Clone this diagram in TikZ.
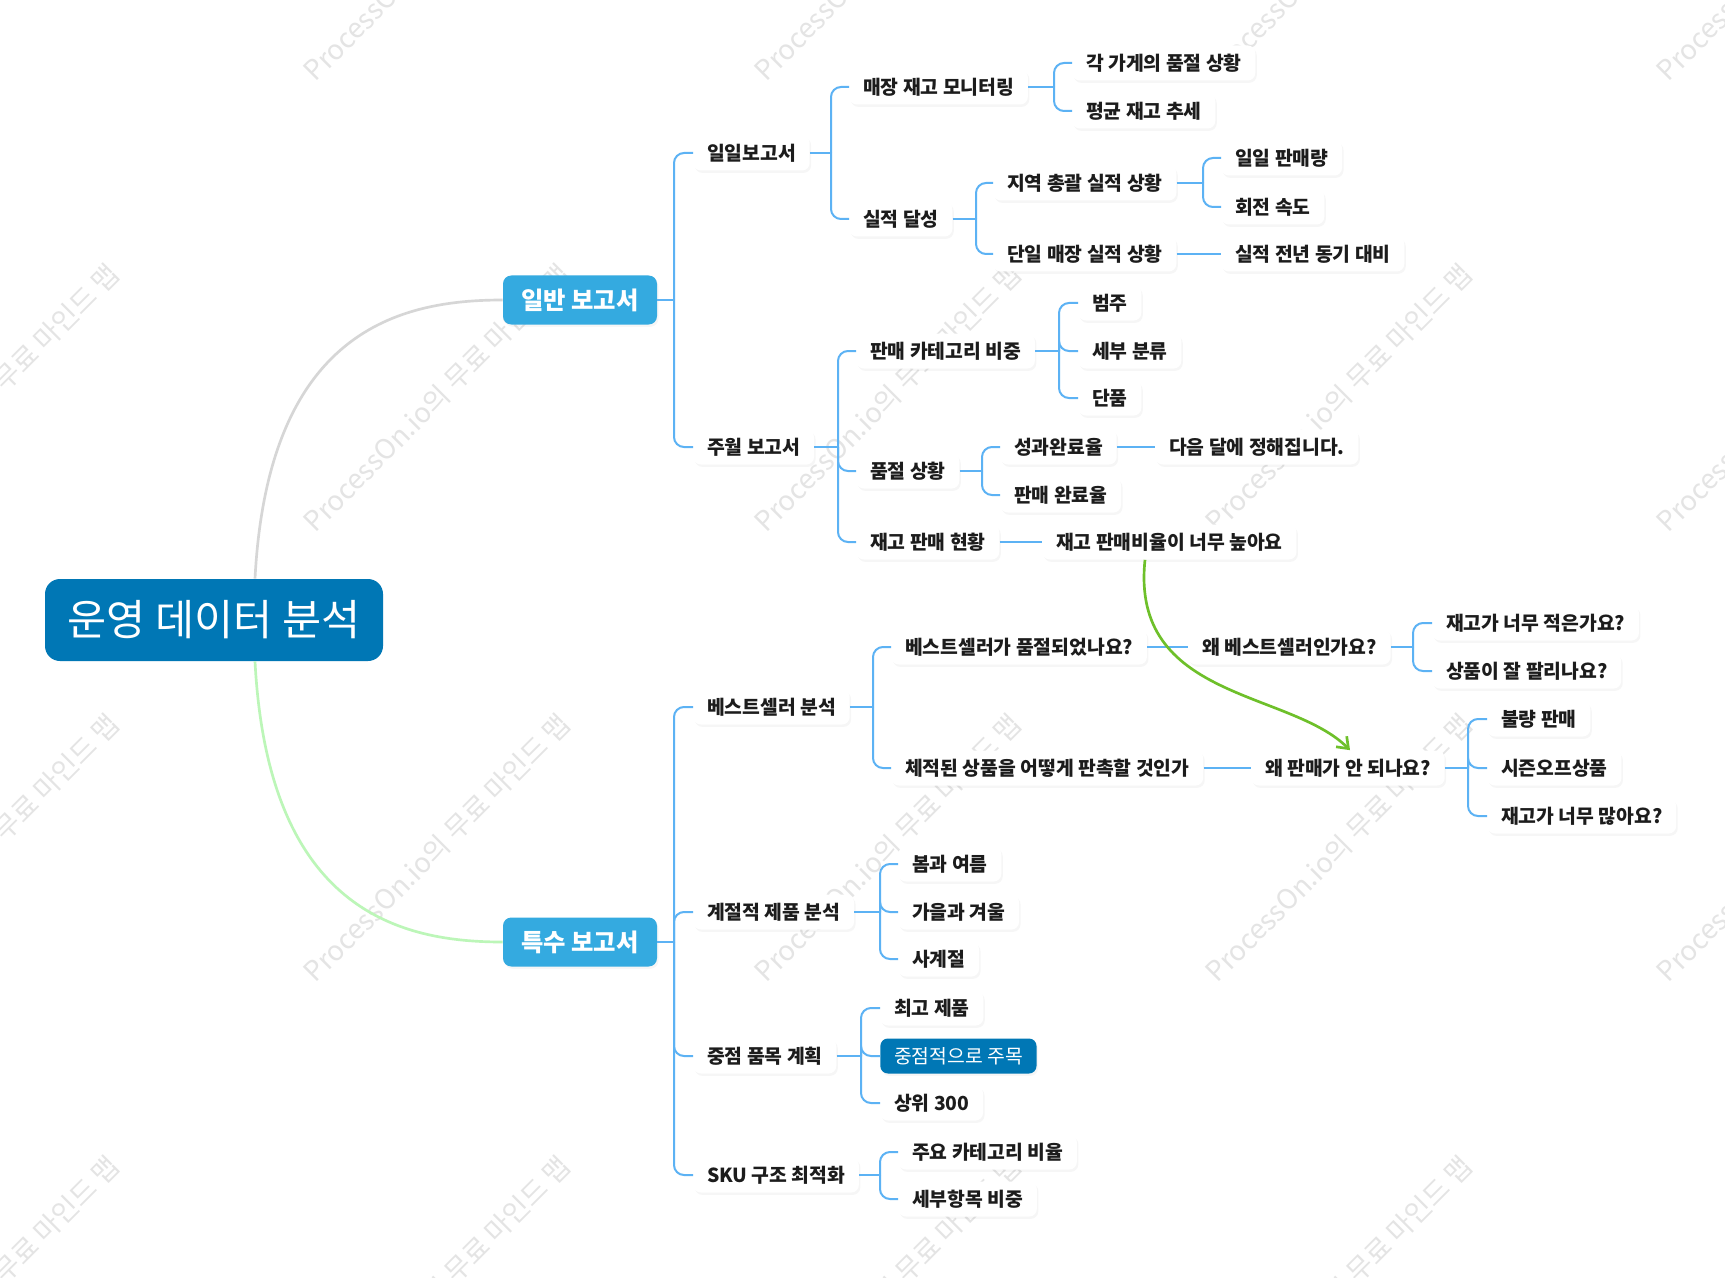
\documentclass[tikz,border=0pt]{standalone}
\usepackage{fontspec}
\setmainfont{Noto Sans CJK KR}
\usetikzlibrary{arrows.meta,shadows}
\definecolor{rootblue}{RGB}{0,119,181}
\definecolor{mainblue}{RGB}{52,170,224}
\definecolor{linkblue}{RGB}{92,178,244}
\definecolor{txt}{RGB}{28,28,28}
\definecolor{arrowgreen}{RGB}{110,192,42}
\definecolor{graycurve}{RGB}{214,214,214}
\definecolor{greencurve}{RGB}{188,246,184}
\definecolor{wmark}{RGB}{228,228,228}
\newcommand\mmbranch[3]{%
  \draw[conn] (#1.east) -- (#1.east -| #2,0);
  \foreach \c in {#3} \draw[conn] (#1.east -| #2,0) |- (\c.west);
}
\begin{document}
\begin{tikzpicture}[x=0.6pt,y=-0.6pt,
  leaf/.style={anchor=west, fill=white, rounded corners=4.5pt, minimum height=21pt,
    inner xsep=8.2pt, inner ysep=0pt, font=\fontsize{11.6}{13}\selectfont\bfseries, text=txt,
    drop shadow={opacity=0.07, shadow xshift=0.9pt, shadow yshift=-1.4pt}},
  focus/.style={leaf, fill=rootblue, text=white, font=\fontsize{11.6}{13}\selectfont},
  mainnode/.style={fill=mainblue, rounded corners=5pt, minimum width=92.4pt, minimum height=29.4pt,
    inner sep=0pt, text=white, font=\fontsize{14.6}{16}\selectfont\bfseries,
    drop shadow={opacity=0.07, shadow xshift=0.9pt, shadow yshift=-1.4pt}},
  rootnode/.style={fill=rootblue, rounded corners=9pt, minimum width=202.8pt, minimum height=49.2pt,
    inner sep=0pt, text=white, font=\fontsize{25.5}{27}\selectfont},
  conn/.style={draw=linkblue, line width=1.2pt, rounded corners=6pt},
  wm/.style={rotate=45, text=wmark, font=\fontsize{16.5}{17}\selectfont}
]
\useasboundingbox (0,0) rectangle (1725,1278);
\fill[white] (0,0) rectangle (1725,1278);

% watermark (behind the map)
\foreach \wx in {-14,437,888,1339,1790}
  \foreach \wy in {-53,398,848,1290}
    \node[wm] at (\wx,\wy) {ProcessOn.io의 무료 마인드 맵};

% central and main topics
\node[rootnode] (root) at (214,620) {운영 데이터 분석};
\node[mainnode] (gen) at (580,300) {일반 보고서};
\node[mainnode] (spec) at (580,942) {특수 보고서};

\draw[graycurve, line width=1.6pt] (root.north -| 255,0) .. controls (268,330) and (400,300) .. (gen.west);
\draw[greencurve, line width=1.6pt] (root.south -| 255,0) .. controls (268,911) and (400,942) .. (spec.west);

% general report
\node[leaf] (daily) at (693,153) {일일보고서};
\node[leaf] (weekly) at (693,447) {주월 보고서};
\node[leaf] (mon) at (849,87) {매장 재고 모니터링};
\node[leaf] (ach) at (849,219) {실적 달성};
\node[leaf] (so1) at (1072,63) {각 가게의 품절 상황};
\node[leaf] (avg) at (1072,111) {평균 재고 추세};
\node[leaf] (reg) at (993,183) {지역 총괄 실적 상황};
\node[leaf] (single) at (993,254) {단일 매장 실적 상황};
\node[leaf] (dsales) at (1221,158) {일일 판매량};
\node[leaf] (turn) at (1221,207) {회전 속도};
\node[leaf] (yoy) at (1221,254) {실적 전년 동기 대비};
\node[leaf] (cat) at (856,351) {판매 카테고리 비중};
\node[leaf] (oos) at (856,471) {품절 상황};
\node[leaf] (inv) at (856,542) {재고 판매 현황};
\node[leaf] (c1) at (1078,303) {범주};
\node[leaf] (c2) at (1078,351) {세부 분류};
\node[leaf] (c3) at (1078,398) {단품};
\node[leaf] (perf) at (1000,447) {성과완료율};
\node[leaf] (sell) at (1000,495) {판매 완료율};
\node[leaf] (next) at (1155,447) {다음 달에 정해집니다.};
\node[leaf] (ratio) at (1042,542) {재고 판매비율이 너무 높아요};

\mmbranch{gen}{674}{daily,weekly}
\mmbranch{daily}{831}{mon,ach}
\mmbranch{mon}{1054}{so1,avg}
\mmbranch{ach}{976}{reg,single}
\mmbranch{reg}{1203}{dsales,turn}
\draw[conn] (single) -- (yoy);
\mmbranch{weekly}{838}{cat,oos,inv}
\mmbranch{cat}{1059}{c1,c2,c3}
\mmbranch{oos}{982}{perf,sell}
\draw[conn] (perf) -- (next);
\draw[conn] (inv) -- (ratio);

% special report
\node[leaf] (best) at (693,707) {베스트셀러 분석};
\node[leaf] (season) at (693,912) {계절적 제품 분석};
\node[leaf] (key) at (693,1056) {중점 품목 계획};
\node[leaf] (sku) at (693,1175) {SKU 구조 최적화};
\node[leaf] (bq1) at (891,647) {베스트셀러가 품절되었나요?};
\node[leaf] (bq2) at (891,768) {체적된 상품을 어떻게 판촉할 것인가};
\node[leaf] (why1) at (1188,647) {왜 베스트셀러인가요?};
\node[leaf] (why2) at (1251,768) {왜 판매가 안 되나요?};
\node[leaf] (w11) at (1432,623) {재고가 너무 적은가요?};
\node[leaf] (w12) at (1432,671) {상품이 잘 팔리나요?};
\node[leaf] (w21) at (1487,719) {불량 판매};
\node[leaf] (w22) at (1487,768) {시즌오프상품};
\node[leaf] (w23) at (1487,816) {재고가 너무 많아요?};
\node[leaf] (s1) at (898,864) {봄과 여름};
\node[leaf] (s2) at (898,912) {가을과 겨울};
\node[leaf] (s3) at (898,959) {사계절};
\node[leaf] (k1) at (880,1008) {최고 제품};
\node[focus] (k2) at (880,1056) {중점적으로 주목};
\node[leaf] (k3) at (880,1103) {상위 300};
\node[leaf] (u1) at (898,1152) {주요 카테고리 비율};
\node[leaf] (u2) at (898,1199) {세부항목 비중};

\mmbranch{spec}{674}{best,season,key,sku}
\mmbranch{best}{873}{bq1,bq2}
\draw[conn] (bq1) -- (why1);
\draw[conn] (bq2) -- (why2);
\mmbranch{why1}{1413}{w11,w12}
\mmbranch{why2}{1468}{w21,w22,w23}
\mmbranch{season}{880}{s1,s2,s3}
\mmbranch{key}{861}{k1,k2,k3}
\mmbranch{sku}{880}{u1,u2}

% relation arrow
\draw[arrowgreen, line width=1.6pt, -{Straight Barb[length=6pt,width=9pt]}]
  (ratio.south -| 1145,0) .. controls (1130,700) and (1290,690) .. (why2.north -| 1350,0);
\end{tikzpicture}
\end{document}
